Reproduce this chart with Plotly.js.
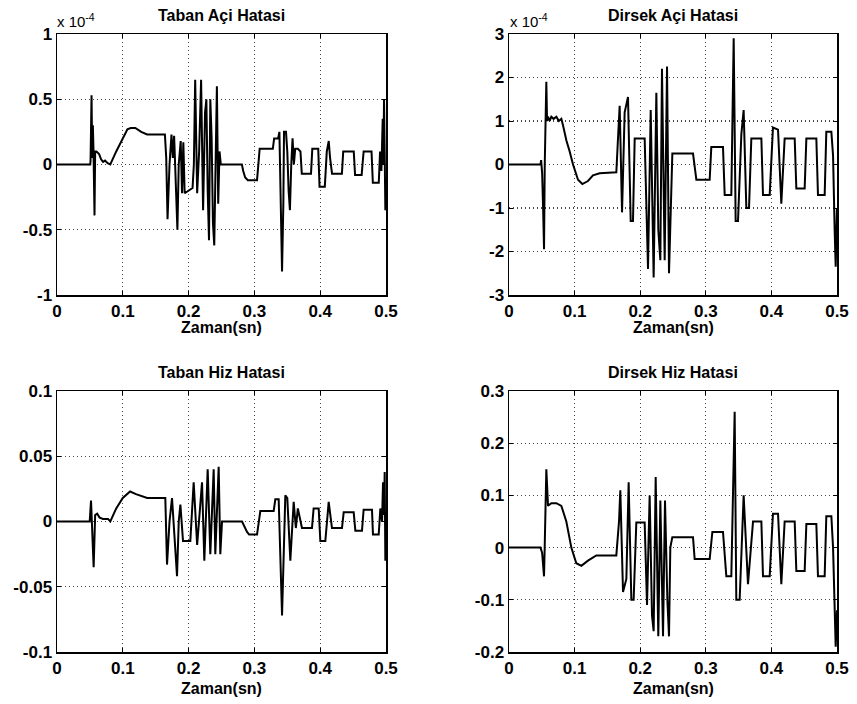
<!DOCTYPE html>
<html>
<head>
<meta charset="utf-8">
<script src="https://cdn.plot.ly/plotly-3.0.1.min.js"></script>
<style>html,body{margin:0;padding:0;background:#fff;}#chart{width:857px;height:704px;}</style>
</head>
<body>
<div id="chart"></div>
<script>
// ---- Data ----
// Taban Açi Hatasi (values in units of 1e-4)
const tabanAciT = [
0, 0.0505, 0.051, 0.0525, 0.0535, 0.0545, 0.0555, 0.057, 0.058, 0.06,
0.064, 0.067, 0.07, 0.073, 0.077, 0.081, 0.09, 0.1, 0.107, 0.112,
0.119, 0.128, 0.137, 0.164, 0.166, 0.168, 0.171, 0.174, 0.176, 0.178,
0.18, 0.183, 0.185, 0.188, 0.19, 0.192, 0.194, 0.2, 0.206, 0.208,
0.21, 0.213, 0.216, 0.219, 0.222, 0.225, 0.227, 0.229, 0.231, 0.233,
0.235, 0.237, 0.239, 0.241, 0.243, 0.245, 0.247, 0.249, 0.281, 0.283,
0.286, 0.29, 0.304, 0.306, 0.308, 0.32, 0.328, 0.33, 0.336, 0.338,
0.34, 0.342, 0.344, 0.345, 0.348, 0.35, 0.352, 0.354, 0.356, 0.358,
0.36, 0.362, 0.366, 0.37, 0.372, 0.386, 0.388, 0.397, 0.399, 0.407,
0.41, 0.413, 0.415, 0.418, 0.433, 0.435, 0.451, 0.453, 0.463, 0.466,
0.478, 0.48, 0.489, 0.491, 0.493, 0.495, 0.496, 0.497, 0.498, 0.499,
0.5];
const tabanAciV = [
0, 0, 0.03, 0.53, 0.05, 0.3, 0.1, -0.39, 0.1, 0.1,
0.08, 0.04, 0.02, 0.03, 0.01, 0, 0.1, 0.2, 0.27, 0.28,
0.28, 0.25, 0.23, 0.23, 0.05, -0.42, 0, 0.23, 0.05, 0.22,
-0.1, -0.5, 0, 0.18, -0.22, 0.17, -0.22, -0.2, -0.18, 0,
0.65, -0.22, 0.1, 0.65, -0.35, 0.4, 0.5, -0.2, -0.58, 0.5,
0.2, -0.45, -0.62, 0, 0.6, -0.3, 0.1, 0, 0, -0.05,
-0.1, -0.12, -0.12, 0, 0.12, 0.12, 0.12, 0.2, 0.2, 0.25,
-0.3, -0.82, -0.3, 0.25, 0.25, 0.1, -0.2, -0.35, 0, 0.2,
0, 0.12, 0.12, 0.1, -0.07, -0.07, 0.12, 0.12, -0.17, -0.17,
0.1, 0.18, 0.05, -0.07, -0.07, 0.1, 0.1, -0.08, -0.08, 0.1,
0.1, -0.14, -0.14, 0.1, -0.05, 0.35, 0, 0.5, 0.1, -0.35,
-0.3];

// Dirsek Açi Hatasi (values in units of 1e-4)
const dirsekAciT = [
0, 0.048, 0.049, 0.0505, 0.052, 0.0534, 0.0545, 0.0569, 0.058, 0.0595,
0.062, 0.0645, 0.068, 0.0722, 0.076, 0.0798, 0.0823, 0.0875, 0.0925, 0.0976,
0.1052, 0.1118, 0.1204, 0.128, 0.1382, 0.1636, 0.1655, 0.1687, 0.1723, 0.1745,
0.1763, 0.1814, 0.1855, 0.189, 0.1916, 0.2068, 0.2093, 0.2119, 0.216, 0.2205,
0.2246, 0.2276, 0.2307, 0.2332, 0.2373, 0.2409, 0.2439, 0.2459, 0.249, 0.2805,
0.2856, 0.3059, 0.3084, 0.3262, 0.3288, 0.3389, 0.3425, 0.3455, 0.3491, 0.3542,
0.3577, 0.3618, 0.3659, 0.3694, 0.3847, 0.3872, 0.3974, 0.4024, 0.4101, 0.4151,
0.4202, 0.4355, 0.438, 0.4507, 0.4533, 0.4685, 0.471, 0.4812, 0.4837, 0.4914,
0.494, 0.4964, 0.498, 0.5];
const dirsekAciV = [
0, 0, 0.1, -0.2, -1.0, -1.95, 0, 1.9, 1.0, 1.1,
1.0, 1.1, 1.05, 1.1, 1.0, 1.05, 0.9, 0.55, 0.3, 0,
-0.35, -0.45, -0.38, -0.25, -0.2, -0.18, 0.4, 1.35, -1.1, 0,
1.2, 1.55, -1.3, -1.3, 0.6, 0.6, -1.2, -2.4, 1.25, -2.6,
1.65, -1.5, -2.2, 2.2, -2.2, 2.25, -2.5, -1.2, 0.25, 0.25,
-0.35, -0.35, 0.4, 0.4, -0.7, -0.7, 2.9, -1.3, -1.3, 0.7,
1.25, -1.0, -1.0, 0.6, 0.6, -0.7, -0.7, 0.85, 0.8, -0.9,
0.6, 0.6, -0.55, -0.55, 0.6, 0.6, -0.7, -0.7, 0.75, 0.75,
0.2, -1.5, -2.35, -1.0];

// Taban Hiz Hatasi
const tabanHizT = [
0, 0.0497, 0.0517, 0.053, 0.0557, 0.058, 0.061, 0.0648, 0.07, 0.0775,
0.081, 0.09, 0.1, 0.111, 0.12, 0.137, 0.1646, 0.1672, 0.171, 0.1748,
0.178, 0.1824, 0.185, 0.1875, 0.1915, 0.2026, 0.2077, 0.213, 0.2204, 0.2239,
0.229, 0.233, 0.2381, 0.2406, 0.2457, 0.2482, 0.2508, 0.2812, 0.2888, 0.292,
0.304, 0.309, 0.3293, 0.3318, 0.3369, 0.342, 0.347, 0.35, 0.3546, 0.3597,
0.363, 0.366, 0.3723, 0.3875, 0.39, 0.3977, 0.4002, 0.4078, 0.4129, 0.4179,
0.4331, 0.4357, 0.4509, 0.4534, 0.4635, 0.466, 0.4787, 0.4802, 0.4889, 0.4914,
0.494, 0.4955, 0.497, 0.498, 0.499, 0.5];
const tabanHizV = [
0, 0, 0.016, 0, -0.035, 0.005, 0.006, 0.003, 0.002, 0.002,
0, 0.01, 0.018, 0.023, 0.021, 0.018, 0.018, -0.033, 0, 0.018,
-0.01, -0.042, 0, 0.013, -0.015, -0.015, 0.03, -0.018, 0.03, -0.03,
0.04, -0.025, 0.04, -0.025, 0.042, -0.025, 0, 0, -0.008, -0.01,
-0.01, 0.008, 0.008, 0.017, 0.017, -0.072, 0.02, 0.018, -0.03, 0.015,
-0.005, 0.01, -0.005, -0.005, 0.01, 0.01, -0.015, -0.015, 0.015, -0.005,
-0.005, 0.007, 0.007, -0.007, -0.007, 0.009, 0.009, -0.01, -0.01, 0.01,
0, 0.03, 0.005, 0.038, -0.03, -0.02];

// Dirsek Hiz Hatasi
const dirsekHizT = [
0, 0.048, 0.0505, 0.0534, 0.0544, 0.0569, 0.0595, 0.0645, 0.0722, 0.0798,
0.0874, 0.095, 0.1026, 0.1103, 0.1204, 0.1331, 0.1636, 0.1677, 0.1697, 0.1738,
0.1789, 0.1824, 0.1865, 0.19, 0.1941, 0.2068, 0.2104, 0.2144, 0.218, 0.2205,
0.2236, 0.2276, 0.2307, 0.2348, 0.2378, 0.2414, 0.2439, 0.2459, 0.249, 0.2805,
0.283, 0.3059, 0.31, 0.3262, 0.3313, 0.3389, 0.344, 0.3465, 0.3516, 0.3577,
0.3643, 0.372, 0.3847, 0.3872, 0.3974, 0.4024, 0.4101, 0.4151, 0.4202, 0.4355,
0.438, 0.4507, 0.4533, 0.4685, 0.471, 0.4812, 0.4837, 0.4914, 0.494, 0.498,
0.5];
const dirsekHizV = [
0, 0, -0.01, -0.055, 0, 0.15, 0.08, 0.085, 0.085, 0.08,
0.05, 0, -0.03, -0.035, -0.025, -0.015, -0.015, 0.05, 0.11, -0.085,
-0.06, 0.125, -0.1, -0.1, 0.048, 0.048, -0.11, 0.1, -0.13, -0.16,
0.135, -0.17, 0.09, -0.17, 0.09, -0.1, -0.17, 0, 0.02, 0.02,
-0.022, -0.022, 0.03, 0.03, -0.055, -0.055, 0.26, -0.1, -0.1, 0.1,
-0.07, 0.05, 0.05, -0.055, -0.055, 0.065, 0.065, -0.07, 0.05, 0.05,
-0.045, -0.045, 0.045, 0.045, -0.055, -0.055, 0.06, 0.06, 0, -0.19,
-0.12];

// Titles and tick labels
const subplotTitles = ["Taban Açi Hatasi", "Dirsek Açi Hatasi", "Taban Hiz Hatasi", "Dirsek Hiz Hatasi"];
const xAxisTitle = "Zaman(sn)";
const exponentLabel = "x 10<sup>-4</sup>";
const xTickVals = [0, 0.1, 0.2, 0.3, 0.4, 0.5];
const xTickText = ["0", "0.1", "0.2", "0.3", "0.4", "0.5"];
const y1TickVals = [-1, -0.5, 0, 0.5, 1];
const y1TickText = ["-1", "-0.5", "0", "0.5", "1"];
const y2TickVals = [-3, -2, -1, 0, 1, 2, 3];
const y2TickText = ["-3", "-2", "-1", "0", "1", "2", "3"];
const y3TickVals = [-0.1, -0.05, 0, 0.05, 0.1];
const y3TickText = ["-0.1", "-0.05", "0", "0.05", "0.1"];
const y4TickVals = [-0.2, -0.1, 0, 0.1, 0.2, 0.3];
const y4TickText = ["-0.2", "-0.1", "0", "0.1", "0.2", "0.3"];

// ---- Plot ----
const W = 857, H = 704;
const FONT = "Liberation Sans, Arial, Helvetica, sans-serif";
const lineStyle = {color: "#000", width: 2};

const traces = [
  {x: tabanAciT, y: tabanAciV, xaxis: "x", yaxis: "y"},
  {x: dirsekAciT, y: dirsekAciV, xaxis: "x2", yaxis: "y2"},
  {x: tabanHizT, y: tabanHizV, xaxis: "x3", yaxis: "y3"},
  {x: dirsekHizT, y: dirsekHizV, xaxis: "x4", yaxis: "y4"}
].map(t => Object.assign(t, {type: "scatter", mode: "lines", line: lineStyle, showlegend: false, hoverinfo: "skip"}));

const xL = [57 / W, 386 / W], xR = [509 / W, 837 / W];
const yT = [1 - 295 / H, 1 - 34 / H], yB = [1 - 652 / H, 1 - 391 / H];

function axisBase() {
  return {
    showline: true, mirror: "ticks", linecolor: "#000", linewidth: 1.5,
    ticks: "inside", ticklen: 4, tickcolor: "#000", tickwidth: 1,
    showgrid: true, gridcolor: "#444", griddash: "1px,3px", gridwidth: 1.2,
    zeroline: false, fixedrange: true,
    tickfont: {family: FONT, size: 17, color: "#000", weight: "bold"},
    tickmode: "array"
  };
}
function xAxis(domain, anchor) {
  return Object.assign(axisBase(), {domain, anchor, range: [0, 0.5], tickvals: xTickVals, ticktext: xTickText});
}
function yAxis(domain, anchor, range, vals, text) {
  return Object.assign(axisBase(), {domain, anchor, range, tickvals: vals, ticktext: text});
}

const titleFont = {family: FONT, size: 16, color: "#000", weight: "bold"};
const centers = [(57 + 386) / 2 / W, (509 + 837) / 2 / W];
const annotations = [
  {text: subplotTitles[0], x: centers[0], y: 1 - 16 / H},
  {text: subplotTitles[1], x: centers[1], y: 1 - 16 / H},
  {text: subplotTitles[2], x: centers[0], y: 1 - 372 / H},
  {text: subplotTitles[3], x: centers[1], y: 1 - 372 / H},
  {text: xAxisTitle, x: centers[0], y: 1 - 328 / H},
  {text: xAxisTitle, x: centers[1], y: 1 - 328 / H},
  {text: xAxisTitle, x: centers[0], y: 1 - 688 / H},
  {text: xAxisTitle, x: centers[1], y: 1 - 688 / H}
].map(a => Object.assign(a, {xref: "paper", yref: "paper", xanchor: "center", yanchor: "middle", showarrow: false, font: titleFont}));
annotations.push(
  {text: exponentLabel, x: 55 / W, y: 1 - 21 / H, xref: "paper", yref: "paper", xanchor: "left", yanchor: "middle", showarrow: false, font: {family: FONT, size: 15, color: "#000"}},
  {text: exponentLabel, x: 508 / W, y: 1 - 21 / H, xref: "paper", yref: "paper", xanchor: "left", yanchor: "middle", showarrow: false, font: {family: FONT, size: 15, color: "#000"}}
);

const layout = {
  width: W, height: H,
  margin: {l: 0, r: 0, t: 0, b: 0, pad: 0},
  paper_bgcolor: "#fff", plot_bgcolor: "#fff",
  showlegend: false,
  xaxis: xAxis(xL, "y"),
  yaxis: yAxis(yT, "x", [-1, 1], y1TickVals, y1TickText),
  xaxis2: xAxis(xR, "y2"),
  yaxis2: yAxis(yT, "x2", [-3, 3], y2TickVals, y2TickText),
  xaxis3: xAxis(xL, "y3"),
  yaxis3: yAxis(yB, "x3", [-0.1, 0.1], y3TickVals, y3TickText),
  xaxis4: xAxis(xR, "y4"),
  yaxis4: yAxis(yB, "x4", [-0.2, 0.3], y4TickVals, y4TickText),
  annotations
};

Plotly.newPlot("chart", traces, layout, {staticPlot: true, displayModeBar: false});
</script>
</body>
</html>
